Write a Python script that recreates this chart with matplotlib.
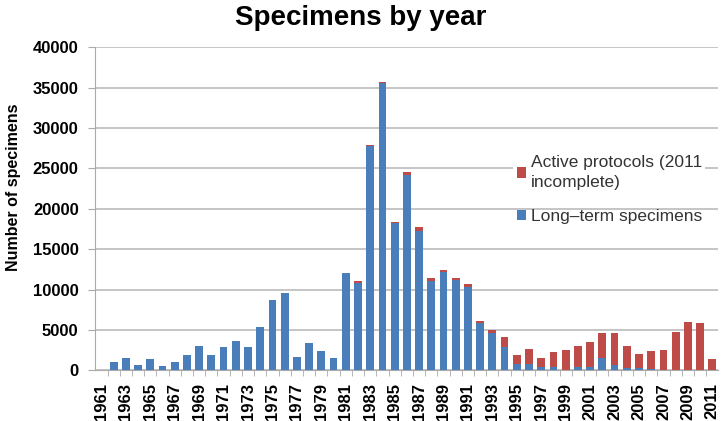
import numpy as np
import matplotlib
matplotlib.use("Agg")
from matplotlib import pyplot as plt
from matplotlib.ticker import FixedLocator

plt.rcParams['font.family'] = ['Liberation Sans', 'DejaVu Sans']

years = list(range(1961, 2012))

# long-term specimens (blue)
long_term = [100, 1100, 1500, 700, 1400, 550, 1000, 1900, 3000, 1900,
             2900, 3600, 2900, 5400, 8750, 9550, 1700, 3350, 2400, 1600,
             12000, 10850, 27750, 35550, 18300, 24200, 17300, 11100, 12200, 11200,
             10300, 5900, 4650, 2900, 830, 830, 400, 370, 100, 370,
             370, 1600, 620, 300, 300, 150, 50, 0, 0, 0,
             0]

# active protocols (red), stacked on top
active = [0, 0, 0, 0, 0, 0, 0, 0, 0, 0,
          0, 0, 0, 0, 0, 0, 0, 50, 0, 0,
          100, 200, 150, 150, 100, 300, 500, 300, 250, 300,
          400, 200, 400, 1200, 1030, 1770, 1130, 1900, 2400, 2630,
          3130, 3030, 4010, 2700, 1800, 2210, 2450, 4750, 6000, 5900,
          1450]

blue = '#4A7EBB'
red = '#BE4B48'

fig, ax = plt.subplots(figsize=(7.22, 4.21), dpi=100)
fig.subplots_adjust(left=0.132, right=0.995, top=0.888, bottom=0.12)

x = np.arange(len(years))
b1 = ax.bar(x, long_term, width=0.64, color=blue, zorder=3)
b2 = ax.bar(x, active, width=0.64, bottom=long_term, color=red, zorder=3)

ax.set_xlim(-0.5, len(years) - 0.5)
ax.set_ylim(0, 40000)
ax.set_yticks(range(0, 40001, 5000))
ax.yaxis.grid(True, color='#BBBBBB', lw=1.2, zorder=0)
ax.tick_params(axis='y', length=5, color='#AAAAAA', labelsize=12, pad=7)
for lab in ax.get_yticklabels():
    lab.set_fontweight('bold')

ax.set_xticks(x[::2])
ax.set_xticklabels([str(y) for y in years[::2]], rotation=90,
                   fontsize=12, fontweight='bold')
ax.xaxis.set_minor_locator(FixedLocator(x[:-1] + 0.5))
ax.tick_params(axis='x', which='major', length=0, pad=9)
ax.tick_params(axis='x', which='minor', length=4, color='#AAAAAA')

for side in ['top', 'right']:
    ax.spines[side].set_visible(False)
ax.spines['left'].set_color('#AAAAAA')
ax.spines['bottom'].set_color('#AAAAAA')

ax.set_ylabel('Number of specimens', fontsize=11.5, fontweight='bold')
ax.yaxis.set_label_coords(-0.12, 0.567)
fig.suptitle('Specimens by year', fontsize=20, fontweight='bold', x=0.5, y=0.988)

# two separate legends: the first one hides the grid line behind it
leg_kw = dict(loc='upper left', fontsize=12.5, handlelength=0.55, handleheight=0.55,
              handletextpad=0.25, borderpad=0.2, borderaxespad=0, labelcolor='#333333')
leg1 = ax.legend([b2], ['Active protocols (2011\nincomplete)'],
                 bbox_to_anchor=(0.671, 0.678), frameon=True, **leg_kw)
leg1.get_texts()[0].set_linespacing(1.45)
leg1.get_frame().set_edgecolor('none')
leg1.get_frame().set_facecolor('white')
leg1.get_frame().set_alpha(1)
leg1.get_frame().set_boxstyle('square', pad=0)
ax.add_artist(leg1)
leg2 = ax.legend([b1], ['Long–term specimens'],
                 bbox_to_anchor=(0.671, 0.51), frameon=False, **leg_kw)

fig.savefig('out.png', dpi=100)
